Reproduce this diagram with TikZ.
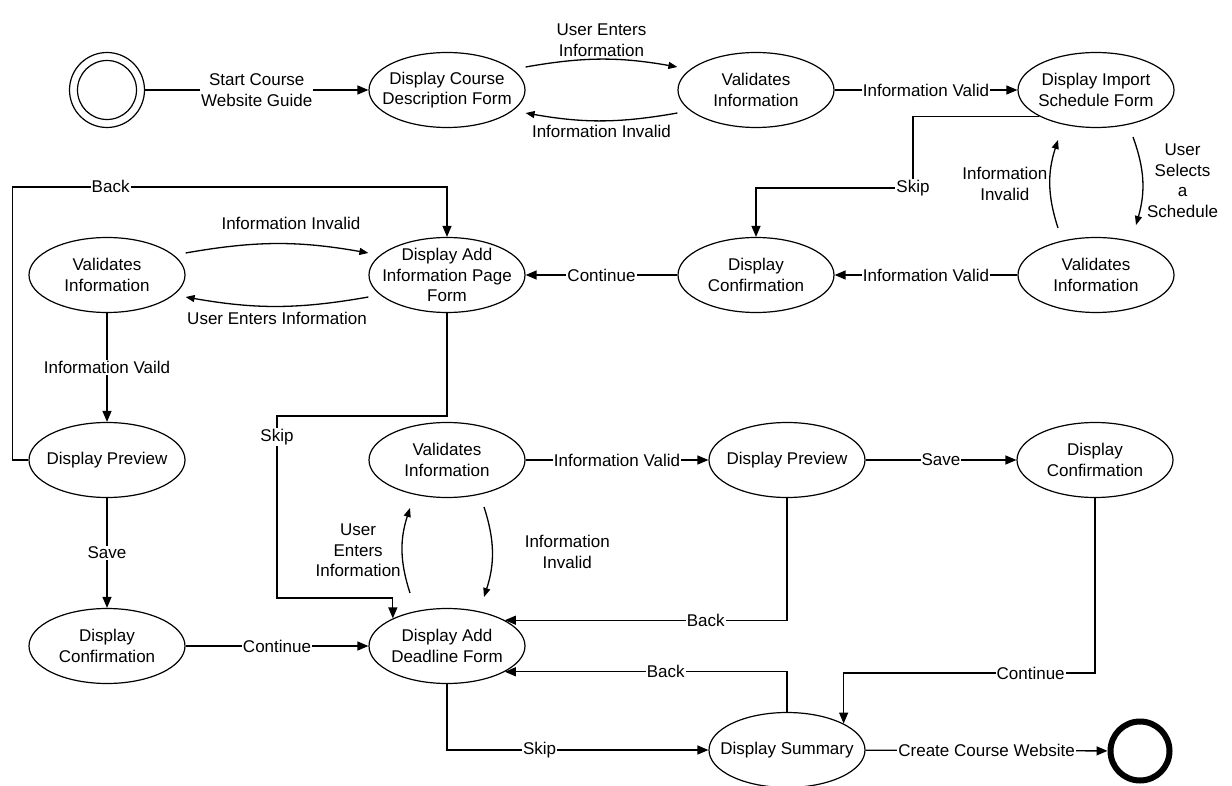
\documentclass[tikz,border=0pt]{standalone}
\usepackage{fontspec}
\setmainfont{Liberation Sans}
\usetikzlibrary{shapes.geometric,arrows.meta,calc}
\newcommand\lblfont{\fontsize{17}{20.7}\selectfont}
\newcommand\statenode[3]{\node[st] (#1) at (#2) {}; \node[stt] (#1t) at (#1) {#3};}
\begin{document}
\begin{tikzpicture}[x=1pt,y=-1pt,
  st/.style={ellipse,draw,line width=1.2pt,minimum width=156pt,minimum height=75pt,inner sep=0pt},
  stt/.style={align=center,font=\lblfont,inner sep=0pt},
  lbl/.style={fill=white,inner sep=1pt,align=center,font=\lblfont},
  free/.style={inner sep=1pt,align=center,font=\lblfont},
  conn/.style={line width=1.3pt,-{Triangle[length=11pt,width=9pt]}},
  arc/.style={line width=1.3pt,-{Triangle[length=9pt,width=7pt]}},
  ring/.style={circle,draw,line width=1.2pt,inner sep=0pt}
]
\useasboundingbox (0,0) rectangle (1232,786);

% initial and final states
\node[ring,minimum size=75pt] (start) at (107,90) {};
\node[ring,minimum size=59pt] (starti) at (start) {};
\node[circle,draw,line width=6pt,minimum size=59pt,inner sep=0pt] (end) at (1140,751) {};

% states
\statenode{e1}{447,90}{Display Course\\Description Form}
\statenode{e2}{756,90}{Validates\\Information}
\statenode{e3}{1096,90}{Display Import\\Schedule Form}
\statenode{e4}{1096,275}{Validates\\Information}
\statenode{e5}{756,275}{Display\\Confirmation}
\statenode{e6}{447,275}{Display Add\\Information Page\\Form}
\statenode{e7}{107,275}{Validates\\Information}
\statenode{e8}{107,460}{Display Preview}
\statenode{e9}{107,646}{Display\\Confirmation}
\statenode{e10}{447,646}{Display Add\\Deadline Form}
\statenode{e11}{447,460}{Validates\\Information}
\statenode{e12}{787,460}{Display Preview}
\statenode{e13}{1095,460}{Display\\Confirmation}
\statenode{e14}{787,750}{Display Summary}

% transitions
\draw[conn] (start) -- node[lbl]{Start Course\\Website Guide} (e1);
\draw[arc] ([yshift=23pt]e1.east) to[bend left=10] node[midway,above=1pt,free]{User Enters\\Information} ([yshift=23pt]e2.west);
\draw[arc] ([yshift=-23pt]e2.west) to[bend left=10] node[midway,below=3pt,free]{Information Invalid} ([yshift=-23pt]e1.east);
\draw[conn] (e2) -- node[lbl]{Information Valid} (e3);
\draw[arc] ($(e3.center)+(37,47)$) to[bend left=18] node[midway,right=3pt,free]{User\\Selects\\a\\Schedule} ($(e4.center)+(40,-50)$);
\draw[arc] ($(e4.center)+(-38,-47)$) to[bend left=18] node[midway,left=1pt,free]{Information\\Invalid} ($(e3.center)+(-38,50)$);
\draw[conn] (e4) -- node[lbl]{Information Valid} (e5);
\draw[conn] (e3.205) -| (913,188) node[lbl]{Skip} -| (e5.north);
\draw[conn] (e5) -- node[lbl]{Continue} (e6);
\draw[arc] ([yshift=22pt]e7.east) to[bend left=10] node[midway,above=12pt,xshift=14pt,free]{Information Invalid} ([yshift=22pt]e6.west);
\draw[arc] ([yshift=-22pt]e6.west) to[bend left=10] node[midway,below=4pt,free]{User Enters Information} ([yshift=-22pt]e7.east);
\draw[conn] (e7) -- node[lbl]{Information Vaild} (e8);
\draw[conn] (e8.west) -- ++(-16,0) |- node[lbl,pos=0.613]{Back} ($(e6.north)+(0,-50)$) -- (e6.north);
\draw[conn] (e6.south) |- (277,416) -- node[lbl,pos=0.115]{Skip} (277,598) -| (e10.153.4);
\draw[conn] (e8) -- node[lbl]{Save} (e9);
\draw[conn] (e9) -- node[lbl]{Continue} (e10);
\draw[arc] ($(e10.center)+(-37,-53)$) to[bend left=18] node[midway,left=0pt,free]{User\\Enters\\Information} ($(e11.center)+(-37,48)$);
\draw[arc] ($(e11.center)+(37,47)$) to[bend left=18] node[midway,right=31pt,free]{Information\\Invalid} ($(e10.center)+(37,-49)$);
\draw[conn] (e11) -- node[lbl]{Information Valid} (e12);
\draw[conn] (e12) -- node[lbl]{Save} (e13);
\draw[conn] (e12.south) |- node[lbl,pos=0.644]{Back} (e10.24.8);
\draw[conn] (e14.north) |- node[lbl,pos=0.715]{Back} (e10.-24.8);
\draw[conn] (e13.south) -- ++(0,175) -| node[lbl,pos=0.128]{Continue} (e14.25.8);
\draw[conn] (e10.south) |- node[lbl,pos=0.677]{Skip} (e14.west);
\draw[conn] (e14) -- node[lbl]{Create Course Website} (end);
\end{tikzpicture}
\end{document}
